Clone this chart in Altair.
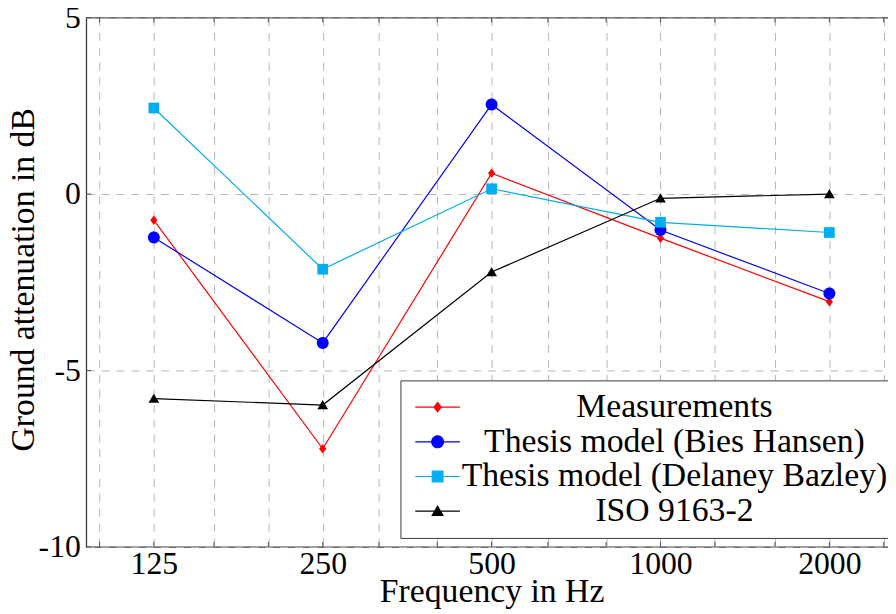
import altair as alt
import pandas as pd

# ---- data ----
freqs = [125, 250, 500, 1000, 2000]
measurements = [-0.74, -7.22, 0.59, -1.25, -3.05]
bies_hansen = [-1.23, -4.22, 2.54, -1.02, -2.82]
delaney_bazley = [2.44, -2.13, 0.15, -0.80, -1.09]
iso_9163 = [-5.80, -5.98, -2.21, -0.12, 0.00]

series_names = [
    "Measurements",
    "Thesis model (Bies Hansen)",
    "Thesis model (Delaney Bazley)",
    "ISO 9163-2",
]
series_colors = ["#ff0000", "#0000ff", "#00aeef", "#000000"]

major_ticks = [125, 250, 500, 1000, 2000]
grid_freqs = [100, 125, 160, 200, 250, 315, 400, 500, 630, 800,
              1000, 1250, 1600, 2000, 2500]
y_ticks = [-10, -5, 0, 5]
y_min, y_max = -10, 5
x_min, x_max = 125 / 2 ** 0.4, 2000 * 2 ** 0.4

# marker shapes (unit square -1..1)
marker_paths = [
    "M0,-0.8L0.6,0L0,0.8L-0.6,0Z",
    "M1,0A1,1,0,1,1,-1,0A1,1,0,1,1,1,0Z",
    "M-0.9,-0.9H0.9V0.9H-0.9Z",
    "M0,-0.85L0.9,0.7L-0.9,0.7Z",
]
# legend symbols: line segment + marker
legend_paths = [
    "M-1.875,0H1.875M0,-0.4L0.3,0L0,0.4L-0.3,0Z",
    "M-1.875,0H1.875M0.5,0A0.5,0.5,0,1,1,-0.5,0A0.5,0.5,0,1,1,0.5,0Z",
    "M-1.875,0H1.875M-0.45,-0.45H0.45V0.45H-0.45Z",
    "M-1.875,0H1.875M0,-0.42L0.45,0.35L-0.45,0.35Z",
]

rows = []
for name, vals in zip(series_names,
                      [measurements, bies_hansen, delaney_bazley, iso_9163]):
    for f, v in zip(freqs, vals):
        rows.append({"series": name, "freq": f, "att": v})
df = pd.DataFrame(rows)

xt_df = pd.DataFrame({"freq": grid_freqs})
yt_df = pd.DataFrame({"att": y_ticks})

FONT = "Liberation Serif"
FS_TICK = 32
FS_TEXT = 34

label_expr = ("indexof([" + ",".join(str(t) for t in major_ticks) +
              "], datum.value) >= 0 ? format(datum.value, 'd') : ''")

x_scale = alt.Scale(type="log", domain=[x_min, x_max], nice=False)
y_scale = alt.Scale(domain=[y_min, y_max], nice=False, zero=False)

x_enc = alt.X(
    "freq:Q", scale=x_scale,
    axis=alt.Axis(values=grid_freqs, labelExpr=label_expr, title="Frequency in Hz",
                  ticks=False, domain=False, labelPadding=2,
                  titleX=409, titleY=45, titleBaseline="middle", titleAlign="center"),
)
y_enc = alt.Y(
    "att:Q", scale=y_scale,
    axis=alt.Axis(values=y_ticks, title="Ground attenuation in dB", ticks=False,
                  domain=False, labelPadding=6, labelExpr="'' + datum.value",
                  titleX=-63, titleY=264, titleBaseline="middle", titleAlign="center",
                  titleAngle=270),
)

color_scale = alt.Scale(domain=series_names, range=series_colors)

base = alt.Chart(df)

lines = base.mark_line(strokeWidth=1.2).encode(
    x=x_enc, y=y_enc,
    color=alt.Color("series:N", scale=color_scale, legend=None),
)

points = base.mark_point(filled=True, size=144, opacity=1).encode(
    x=x_enc, y=y_enc,
    color=alt.Color("series:N", scale=color_scale, legend=None),
    shape=alt.Shape("series:N", scale=alt.Scale(domain=series_names, range=marker_paths),
                    legend=None),
)

ghost = base.mark_point(filled=True, size=576, opacity=1).encode(
    x=x_enc, y=y_enc,
    color=alt.Color("series:N", scale=color_scale, title=None),
    stroke=alt.Stroke("series:N", scale=color_scale, title=None),
    shape=alt.Shape("series:N", scale=alt.Scale(domain=series_names, range=legend_paths),
                    title=None),
).transform_filter("false")

tick_color = "#505050"
ticks_bottom = alt.Chart(xt_df).mark_tick(
    orient="vertical", size=5, thickness=1, color=tick_color, yOffset=-2.5, opacity=1
).encode(x=alt.X("freq:Q", scale=x_scale), y=alt.datum(y_min))
ticks_top = alt.Chart(xt_df).mark_tick(
    orient="vertical", size=5, thickness=1, color=tick_color, yOffset=2.5, opacity=1
).encode(x=alt.X("freq:Q", scale=x_scale), y=alt.datum(y_max))
ticks_left = alt.Chart(yt_df).mark_tick(
    orient="horizontal", size=5, thickness=1, color=tick_color, xOffset=2.5, opacity=1
).encode(y=alt.Y("att:Q", scale=y_scale), x=alt.datum(x_min))

chart = alt.layer(ticks_bottom, ticks_top, ticks_left, lines, points, ghost).resolve_scale(
    color="independent", shape="independent", stroke="independent"
).properties(
    width=818, height=534,
    autosize=alt.AutoSizeParams(type="none"),
    padding={"left": 79, "top": 7, "right": -9, "bottom": 65},
).configure_view(
    stroke="#3a3a3a", strokeWidth=1.3,
).configure_axis(
    labelFont=FONT, labelFontSize=FS_TICK, labelColor="black",
    titleFont=FONT, titleFontSize=FS_TEXT, titleColor="black", titleFontWeight="normal",
    grid=True, gridColor="#b5b5b5", gridDash=[8, 7], gridWidth=1,
).configure_legend(
    orient="none", legendX=317, legendY=366,
    strokeColor="#3a3a3a", fillColor="white", padding=10, cornerRadius=0,
    labelFont=FONT, labelFontSize=FS_TEXT, labelColor="black", labelLimit=1000,
    labelAlign="center", labelOffset=222, labelBaseline="middle",
    symbolSize=576, symbolStrokeWidth=1.2, symbolOffset=10.5, rowPadding=1,
)

chart.save("out.html", embed_options={"renderer": "svg", "actions": False})
